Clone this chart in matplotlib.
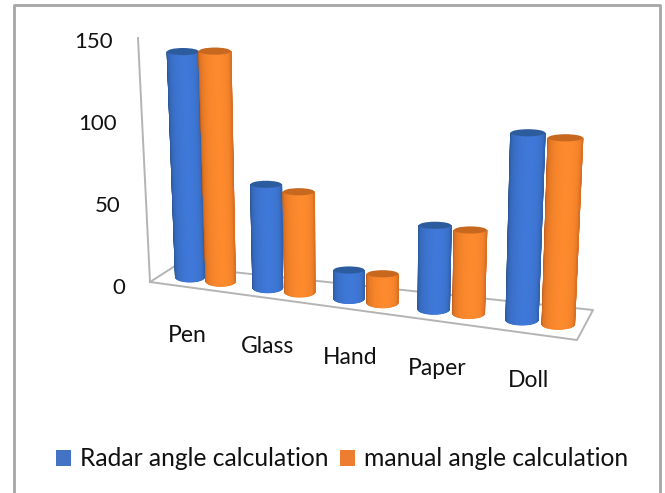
#!/usr/bin/env python3
"""3-D look cylinder chart, radar vs manual angle, drawn on a pixel-sized axes."""
import matplotlib
matplotlib.use("Agg")
import matplotlib.pyplot as plt
import numpy as np
from matplotlib.colors import LinearSegmentedColormap
from matplotlib.patches import Ellipse, Patch

plt.rcParams["font.family"] = ["Lato", "DejaVu Sans"]

CATEGORIES = ["Pen", "Glass", "Hand", "Paper", "Doll"]
RADAR = [140, 61, 16, 45, 96]
MANUAL = [140, 58, 16, 44, 94]
TICKS = [0, 50, 100, 150]
SERIES_NAMES = ["Radar angle calculation", "manual angle calculation"]

BLUE = {"edge": "#2b5593", "mid": "#3f78d8", "cap": "#2d5c9e", "flat": "#4472C4"}
ORANGE = {"edge": "#c25f1c", "mid": "#fd8a2d", "cap": "#c8681f", "flat": "#ED7D31"}
GREY = "#b4b4b4"
BORDER = "#a6a6a6"


def base_x(u):
    return 190 + 76 * u + 1.75 * u * u


def base_y(u):
    return 277 + 10.75 * u


def px_per_unit(u):
    return 1.61 + 0.085 * u


def cylinder(ax, u, value, pal):
    bx, by = base_x(u), base_y(u)
    h = value * px_per_unit(u)
    tx = bx + h * (bx - 355) / 5300
    ty = by - h
    rb = 14.5 + 0.4 * u
    rt = rb + h * 0.006
    bb, bt = 5.0, 3.6
    z = 3 + u
    th = np.linspace(-np.pi / 2, np.pi / 2, 41)
    xs = np.vstack([tx + rt * np.sin(th), bx + rb * np.sin(th)])
    ys = np.vstack([ty + bt * np.cos(th), by + bb * np.cos(th)])
    # brightest a bit right of the middle, dark towards both sides
    shade = np.clip(np.cos(th - 0.15), 0, 1) ** 0.55
    cmap = LinearSegmentedColormap.from_list("cyl", [pal["edge"], pal["mid"]])
    ax.pcolormesh(xs, ys, np.vstack([shade, shade]), cmap=cmap, vmin=0, vmax=1,
                  shading="gouraud", zorder=z)
    ax.add_patch(Ellipse((tx, ty), 2 * rt, 2 * bt, color=pal["cap"], lw=0, zorder=z + 0.01))


def main():
    fig = plt.figure(figsize=(6.65, 4.93), dpi=100)
    ax = fig.add_axes([0, 0, 1, 1])
    ax.axis("off")

    # open at the bottom, the frame runs off the image
    ax.plot([14, 14, 660, 660], [493, 5, 5, 493], color=BORDER, lw=2, zorder=1)

    # walls and floor outline
    floor = dict(color=GREY, lw=1.4, zorder=1)
    ax.plot([138, 150], [38, 282], **floor)
    ax.plot([150, 577, 593, 175, 150], [282, 340, 310, 266, 282], **floor)

    for c in range(len(CATEGORIES)):
        cylinder(ax, c, RADAR[c], BLUE)
        cylinder(ax, c + 0.4, MANUAL[c], ORANGE)

    for v in TICKS:
        ax.text(113 + (150 - v) * 0.08, 288 - 1.64 * v, str(v), ha="right", va="center",
                fontsize=16, color="#111111")
    for c, name in enumerate(CATEGORIES):
        ax.text(base_x(c * 1.025 - 0.03), 335 + 11.3 * c, name, ha="center", va="center",
                fontsize=16.5, color="#111111")

    handles = [Patch(fc=BLUE["flat"], lw=0), Patch(fc=ORANGE["flat"], lw=0)]
    ax.legend(handles, SERIES_NAMES, loc="center", bbox_to_anchor=(342 / 665, 1 - 459 / 493),
              ncol=2, frameon=False, fontsize=17.7, handlelength=0.63, handleheight=0.63,
              handletextpad=0.37, columnspacing=0.45, labelcolor="#111111")

    ax.set_xlim(0, 665)
    ax.set_ylim(493, 0)
    fig.savefig("out.png", dpi=100)
    plt.close(fig)


if __name__ == "__main__":
    main()
